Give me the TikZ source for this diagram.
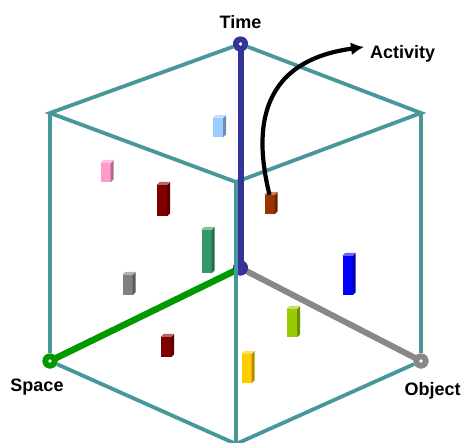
\documentclass[tikz,border=0pt]{standalone}
\usepackage{fontspec}
\setmainfont{Liberation Sans}
\usetikzlibrary{arrows.meta}
\definecolor{cubeteal}{RGB}{72,152,154}
\definecolor{timeblue}{RGB}{51,51,153}
\definecolor{spacegreen}{RGB}{0,153,0}
\definecolor{objectgray}{RGB}{136,136,136}
\definecolor{barlightblue}{RGB}{153,204,255}
\definecolor{barpink}{RGB}{255,153,204}
\definecolor{bardarkred}{RGB}{128,0,0}
\definecolor{bargreen}{RGB}{51,153,102}
\definecolor{bargray}{RGB}{128,128,128}
\definecolor{barbrown}{RGB}{153,51,0}
\definecolor{barblue}{RGB}{0,0,255}
\definecolor{barlime}{RGB}{153,204,0}
\definecolor{baryellow}{RGB}{255,204,0}
% side and top faces of a bar
\newcommand{\barfaces}[2]{%
  \fill[#2!70!black] (#1.north east) -- ++(3,-3) -- ([shift={(3,-3)}]#1.south east) -- (#1.south east) -- cycle;
  \fill[#2!60!white] (#1.north west) -- ++(3,-3) -- ([shift={(3,-3)}]#1.north east) -- (#1.north east) -- cycle;}
\begin{document}
\begin{tikzpicture}[x=1pt, y=-1pt,
  edge/.style={cubeteal, line width=3.8pt},
  axis/.style={line width=6pt},
  axisdot/.style={circle, inner sep=0pt, minimum size=15pt},
  enddot/.style={axisdot, path picture={\fill[white] (path picture bounding box.center) circle (1.8pt);}},
  bar/.style={rectangle, inner sep=0pt, minimum width=10pt, fill=#1},
  label/.style={font=\bfseries\fontsize{18}{20}\selectfont, inner sep=0pt}]
  \useasboundingbox (0,0) rectangle (465,442);
  % Nodes
  \coordinate (ul) at (50, 113);
  \coordinate (ur) at (421, 113);
  \coordinate (mf) at (236, 182);
  \coordinate (bot) at (236, 444);
  \node (origin) [axisdot, fill=timeblue] at (240.5, 268) {};
  \node (timeend) [enddot, fill=timeblue] at (240.5, 44) {};
  \node (spaceend) [enddot, fill=spacegreen] at (50, 361) {};
  \node (objectend) [enddot, fill=objectgray] at (421, 361) {};
  \node (time) [label, anchor=base] at (240.5, 28) {Time};
  \node (activity) [label, anchor=base west] at (370, 58) {Activity};
  \node (space) [label, anchor=base] at (37, 391) {Space};
  \node (object) [label, anchor=base] at (432.5, 395) {Object};
  \coordinate (acttip) at (364, 47);
  % Cube
  \draw[edge] (timeend) -- (ul) -- (mf) -- (ur) -- (timeend);
  \draw[edge] (ul) -- (spaceend);
  \draw[edge] (ur) -- (objectend);
  \draw[edge] (spaceend) -- (bot) -- (objectend);
  % Axes
  \draw[axis, timeblue] (origin.center) -- (timeend.center);
  \draw[axis, spacegreen, line width=6.5pt] (origin.center) -- (spaceend.center);
  \draw[axis, objectgray] (origin.center) -- (objectend.center);
  \node [axisdot, fill=timeblue] at (origin) {};
  \node [enddot, fill=timeblue] at (timeend) {};
  \node [enddot, fill=spacegreen] at (spaceend) {};
  \node [enddot, fill=objectgray] at (objectend) {};
  \draw[edge] (mf) -- (bot);
  % Bars
  \node (lightblue) [bar=barlightblue, minimum height=19pt] at (218, 127.5) {};
  \node (pink) [bar=barpink, minimum height=19pt] at (105.5, 172.5) {};
  \node (darkred) [bar=bardarkred, minimum height=31pt] at (162, 200.5) {};
  \node (green) [bar=bargreen, minimum height=43pt] at (206.5, 251.5) {};
  \node (gray) [bar=bargray, minimum height=20pt] at (127.5, 285) {};
  \node (darkredlow) [bar=bardarkred, minimum height=20pt] at (166, 347) {};
  \node (brown) [bar=barbrown, minimum height=19pt] at (269.5, 204.5) {};
  \node (blue) [bar=barblue, minimum height=39pt] at (347.5, 275.5) {};
  \node (lime) [bar=barlime, minimum height=28pt] at (292, 323) {};
  \node (yellow) [bar=baryellow, minimum height=29pt] at (246.5, 368.5) {};
  \barfaces{lightblue}{barlightblue}
  \barfaces{pink}{barpink}
  \barfaces{darkred}{bardarkred}
  \barfaces{green}{bargreen}
  \barfaces{gray}{bargray}
  \barfaces{darkredlow}{bardarkred}
  \barfaces{brown}{barbrown}
  \barfaces{blue}{barblue}
  \barfaces{lime}{barlime}
  \barfaces{yellow}{baryellow}
  % Arrow
  \draw[line width=4.2pt, -{Latex[length=13pt,width=13pt]}] (brown.north) .. controls (256, 140) and (252, 62) .. (acttip);
\end{tikzpicture}
\end{document}
